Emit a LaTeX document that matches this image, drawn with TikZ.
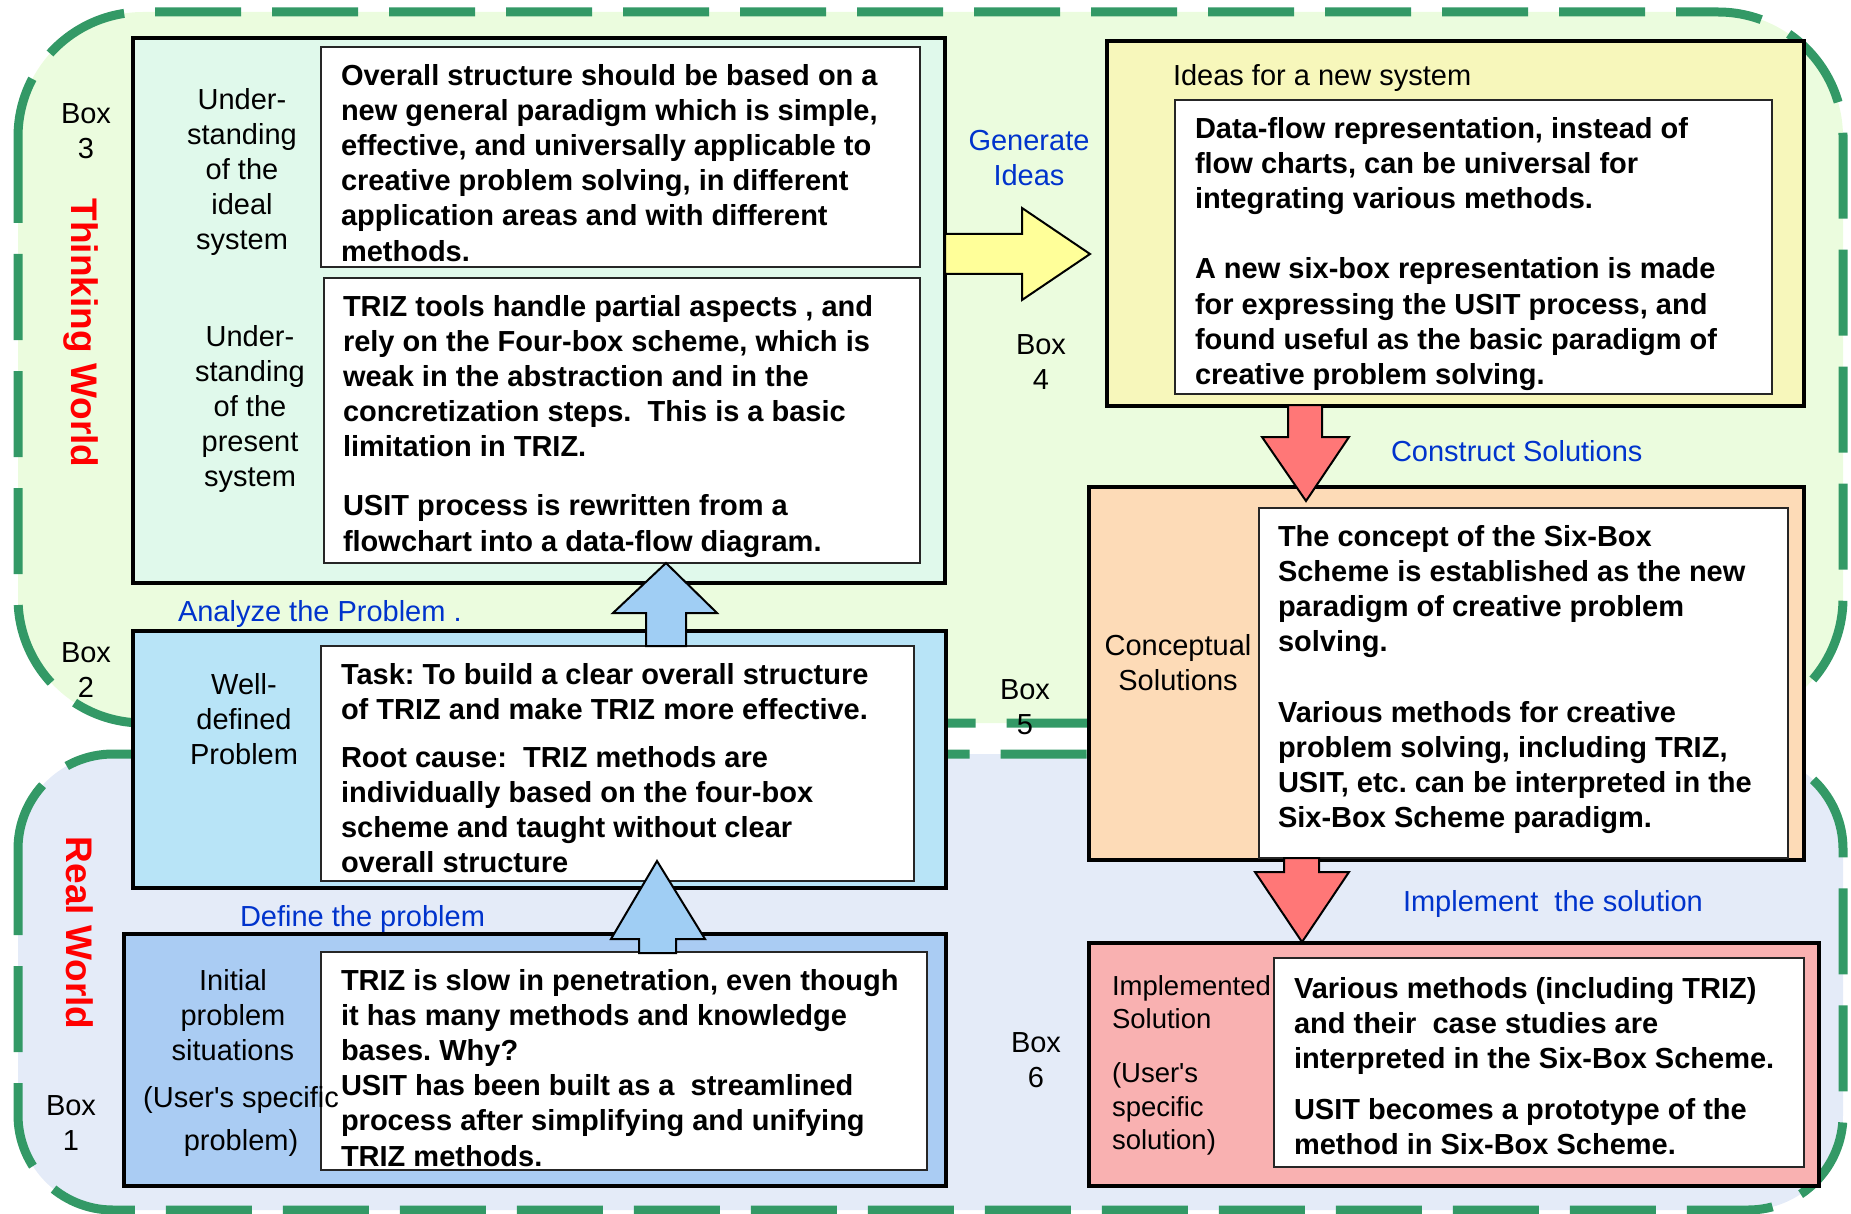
\documentclass[tikz,border=0pt]{standalone}
\usepackage{fontspec}
\setmainfont{Liberation Sans}
% same face without the TeX quote mapping, so ' stays a straight quote
\newfontfamily\arialface{Liberation Sans}
\usetikzlibrary{calc}

% colours
\definecolor{zoneedge}{RGB}{51,153,102}
\definecolor{thinkfill}{RGB}{235,252,222}
\definecolor{realfill}{RGB}{228,235,248}
\definecolor{boxthree}{RGB}{224,249,235}
\definecolor{boxtwo}{RGB}{184,228,247}
\definecolor{boxone}{RGB}{170,204,243}
\definecolor{boxfour}{RGB}{247,247,187}
\definecolor{boxfive}{RGB}{253,219,183}
\definecolor{boxsix}{RGB}{249,177,177}
\definecolor{arrowyellow}{RGB}{255,255,153}
\definecolor{arrowred}{RGB}{255,119,119}
\definecolor{arrowblue}{RGB}{160,206,244}
\definecolor{stepblue}{RGB}{0,51,204}

% font sizes (1 unit = 1pt)
\newcommand{\mainfs}{\arialface\fontsize{29}{35.2}\selectfont}
\newcommand{\smallfs}{\arialface\fontsize{27.5}{33.5}\selectfont}
\newcommand{\worldfs}{\arialface\fontsize{37}{44}\selectfont}

\tikzset{
  zonedash/.style={draw=zoneedge, line width=9pt, dash pattern=on 86pt off 31pt},
  outerbox/.style={draw=black, line width=4pt, inner sep=0pt, outer sep=0pt, anchor=north west},
  innerbox/.style={draw=black!85, fill=white, line width=1.8pt, inner sep=0pt, outer sep=0pt, anchor=north west},
  bodytext/.style={anchor=north west, inner sep=0pt, outer sep=0pt, align=left, font=\mainfs\bfseries},
  sidelabel/.style={anchor=north, inner sep=0pt, outer sep=0pt, align=center, font=\mainfs},
  boxtag/.style={anchor=north, inner sep=0pt, outer sep=0pt, align=center, font=\mainfs},
  steplabel/.style={anchor=north west, inner sep=0pt, outer sep=0pt, align=left, font=\mainfs, text=stepblue},
  worldlabel/.style={inner sep=0pt, outer sep=0pt, font=\worldfs\bfseries, text=red, rotate=-90},
  blockarrow/.style={draw=black, line width=2pt, line join=miter},
}

\begin{document}
\frenchspacing
\begin{tikzpicture}[x=1pt,y=-1pt]
\useasboundingbox (0,0) rectangle (1851,1214);

% the two worlds
\fill[thinkfill, rounded corners=125pt] (18,12) rectangle (1843,723);
\draw[zonedash, rounded corners=125pt] (18,12) rectangle (1843,723);
\fill[realfill, rounded corners=95pt] (18,754) rectangle (1843,1210);
\draw[zonedash, rounded corners=95pt] (18,754) rectangle (1843,1210);

% outer boxes
\node[outerbox, fill=boxthree, minimum width=812pt, minimum height=545pt] (b3) at (133,38) {};
\node[outerbox, fill=boxtwo, minimum width=813pt, minimum height=257pt] (b2) at (133,631) {};
\node[outerbox, fill=boxone, minimum width=822pt, minimum height=252pt] (b1) at (124,934) {};
\node[outerbox, fill=boxfour, minimum width=697pt, minimum height=365pt] (b4) at (1107,41) {};
\node[outerbox, fill=boxfive, minimum width=715pt, minimum height=373pt] (b5) at (1089,487) {};
\node[outerbox, fill=boxsix, minimum width=730pt, minimum height=243pt] (b6) at (1089,943) {};

% white text panels
\node[innerbox, minimum width=599pt, minimum height=220pt] (p3a) at (321,47) {};
\node[innerbox, minimum width=596pt, minimum height=285pt] (p3b) at (324,278) {};
\node[innerbox, minimum width=593pt, minimum height=235pt] (p2) at (321,646) {};
\node[innerbox, minimum width=606pt, minimum height=218pt] (p1) at (321,952) {};
\node[innerbox, minimum width=597pt, minimum height=294pt] (p4) at (1175,100) {};
\node[innerbox, minimum width=529pt, minimum height=350pt] (p5) at (1259,508) {};
\node[innerbox, minimum width=530pt, minimum height=209pt] (p6) at (1274,958) {};

% block arrows between the boxes
\filldraw[blockarrow, fill=arrowyellow] (b3.east |- 0,234) -- (1022,234) -- (1022,208) -- (1090,254)
  -- (1022,300) -- (1022,274) -- (b3.east |- 0,274) -- cycle;
\filldraw[blockarrow, fill=arrowred] (1288,405) -- (1322,405) -- (1322,437) -- (1349,437)
  -- (1306,501) -- (1262,437) -- (1288,437) -- cycle;
\filldraw[blockarrow, fill=arrowred] (1284,858) -- (1319,858) -- (1319,872) -- (1349,872)
  -- (1302,942) -- (1255,872) -- (1284,872) -- cycle;
\filldraw[blockarrow, fill=arrowblue] (646,646) -- (646,613) -- (613,613) -- (666,563)
  -- (717,613) -- (686,613) -- (686,646) -- cycle;
\filldraw[blockarrow, fill=arrowblue] (639,953) -- (639,939) -- (611,939) -- (657,861)
  -- (705,939) -- (676,939) -- (676,953) -- cycle;

% world names
\node[worldlabel] (tw) at (81,333) {Thinking World};
\node[worldlabel] (rw) at (80,933) {Real World};

% box tags
\node[boxtag] (tag3) at (86,98.4) {\strut Box\\3};
\node[boxtag] (tag2) at (86,637.4) {\strut Box\\2};
\node[boxtag] (tag1) at (71,1090.4) {\strut Box\\1};
\node[boxtag] (tag4) at (1041,329.4) {\strut Box\\4};
\node[boxtag] (tag5) at (1025,674.4) {\strut Box\\5};
\node[boxtag] (tag6) at (1036,1027.4) {\strut Box\\6};

% step names
\node[steplabel, anchor=north, align=center] (s34) at (1029,125.4) {\strut Generate\\Ideas};
\node[steplabel] (s45) at (1391,436.4) {\strut Construct Solutions};
\node[steplabel] (s23) at (178,597) {\strut Analyze the Problem .};
\node[steplabel] (s12) at (240,901.4) {\strut Define the problem};
\node[steplabel] (s56) at (1403,887) {\strut Implement\ \ the solution};

% side labels of the boxes
\node[sidelabel] (l3a) at (242,84.4) {\strut Under-\\standing\\of the\\ideal\\system};
\node[sidelabel] (l3b) at (250,321.4) {\strut Under-\\standing\\of the\\present\\system};
\node[sidelabel] (l2) at (244,669.4) {\strut Well-\\defined\\Problem};
\node[sidelabel] (l1a) at (233,965.4) {\strut Initial\\problem\\situations};
\node[sidelabel] (l1b) at (241,1082.4) {\strut (User's specific\\[7.8pt]problem)};
\node[sidelabel, anchor=north west, align=left] (l4) at (1173,60.4) {\strut Ideas for a new system};
\node[sidelabel] (l5) at (1178,630.4) {\strut Conceptual\\Solutions};
\node[sidelabel, anchor=north west, align=left, font=\smallfs] (l6) at (1112,972) {\strut Implemented\\Solution\\[20.5pt](User's\\specific\\solution)};

% panel texts
\node[bodytext] (t3a) at (341,60.4) {\strut Overall structure should be based on a\\
new general paradigm which is simple,\\
effective, and universally applicable to\\
creative problem solving, in different\\
application areas and with different\\
methods.};
\node[bodytext] (t3b) at (343,291.4) {\strut TRIZ tools handle partial aspects , and\\
rely on the Four-box scheme, which is\\
weak in the abstraction and in the\\
concretization steps.\ \ This is a basic\\
limitation in TRIZ.\\[23.8pt]
USIT process is rewritten from a\\
flowchart into a data-flow diagram.};
\node[bodytext] (t2) at (341,659.4) {\strut Task: To build a clear overall structure\\
of TRIZ and make TRIZ more effective.\\[12.8pt]
Root cause:\ \ TRIZ methods are\\
individually based on the four-box\\
scheme and taught without clear\\
overall structure};
\node[bodytext] (t1) at (341,965.4) {\strut TRIZ is slow in penetration, even though\\
it has many methods and knowledge\\
bases. Why?\\
USIT has been built as a\ \ streamlined\\
process after simplifying and unifying\\
TRIZ methods.};
\node[bodytext] (t4) at (1195,113.4) {\strut Data-flow representation, instead of\\
flow charts, can be universal for\\
integrating various methods.\\[35.2pt]
A new six-box representation is made\\
for expressing the USIT process, and\\
found useful as the basic paradigm of\\
creative problem solving.};
\node[bodytext] (t5) at (1278,521.4) {\strut The concept of the Six-Box\\
Scheme is established as the new\\
paradigm of creative problem\\
solving.\\[35.2pt]
Various methods for creative\\
problem solving, including TRIZ,\\
USIT, etc. can be interpreted in the\\
Six-Box Scheme paradigm.};
\node[bodytext] (t6) at (1294,973.4) {\strut Various methods (including TRIZ)\\
and their\ \ case studies are\\
interpreted in the Six-Box Scheme.\\[15.8pt]
USIT becomes a prototype of the\\
method in Six-Box Scheme.};

\end{tikzpicture}
\end{document}
